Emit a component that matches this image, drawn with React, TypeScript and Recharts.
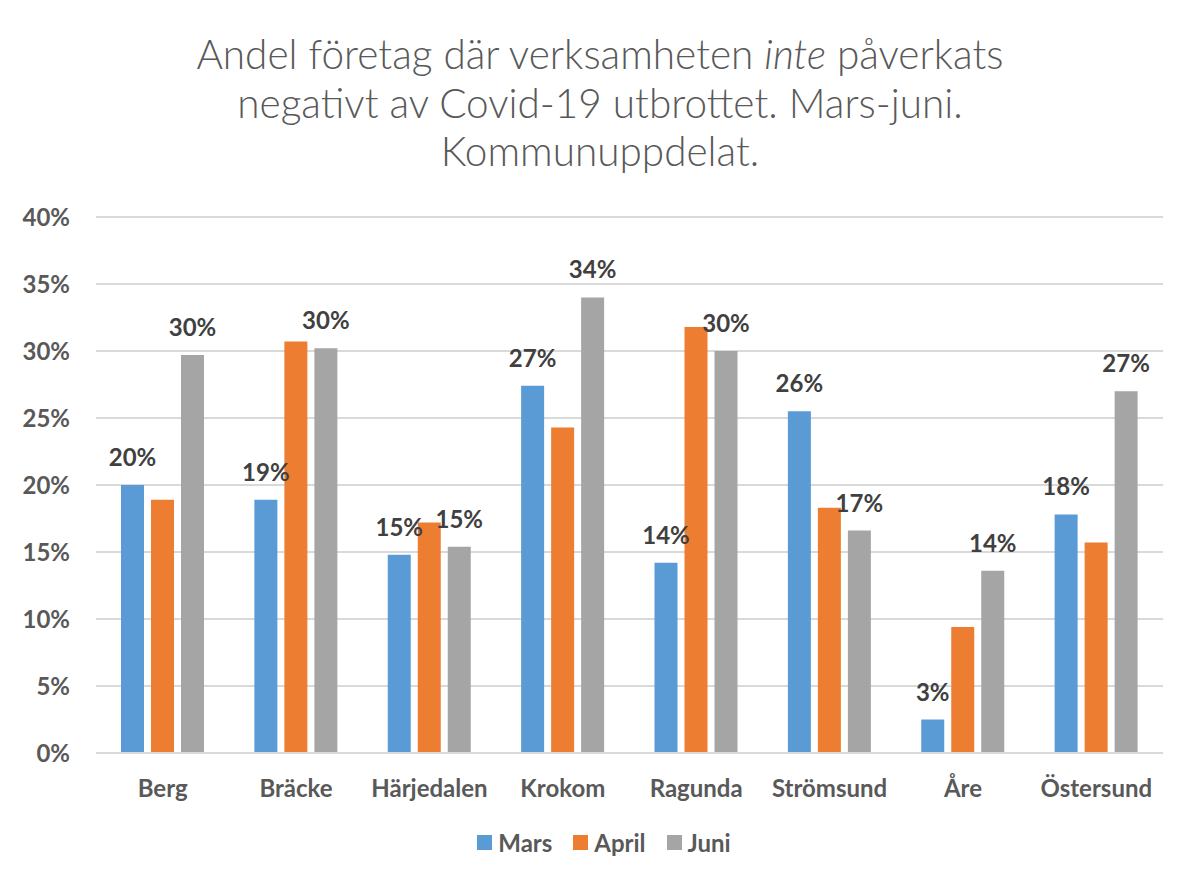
import React from "react";
import { BarChart, Bar, XAxis, YAxis, CartesianGrid, LabelList } from "recharts";

const categories = ["Berg", "Bräcke", "Härjedalen", "Krokom", "Ragunda", "Strömsund", "Åre", "Östersund"];
const mars = [20.0, 18.9, 14.8, 27.4, 14.2, 25.5, 2.5, 17.8];
const april = [18.9, 30.7, 17.2, 24.3, 31.8, 18.3, 9.4, 15.7];
const juni = [29.7, 30.2, 15.4, 34.0, 30.0, 16.6, 13.6, 27.0];
const yTicks = [0, 5, 10, 15, 20, 25, 30, 35, 40];
const seriesNames = ["Mars", "April", "Juni"];
const titleLines = ["Andel företag där verksamheten ", "inte", " påverkats", "negativt av Covid-19 utbrottet. Mars-juni.", "Kommunuppdelat."];

const colors = ["#5B9BD5", "#ED7D31", "#A5A5A5"];
const FONT = "Lato, 'Open Sans', sans-serif";

const data = categories.map((c, i) => ({ name: c, Mars: mars[i], April: april[i], Juni: juni[i] }));

const pct = (v: any) => `${Math.round(Number(v))}%`;

export default function App() {
  return (
    <div style={{ position: "relative", width: 1184, height: 879, margin: -8, overflow: "hidden", background: "#fff", fontFamily: FONT }}>
      <div style={{ position: "absolute", left: 5, top: 6, width: 1260, height: 960, border: "2px solid #D9D9D9", boxSizing: "border-box" }} />
      <div style={{ position: "absolute", left: 0, top: 30, width: 1200, textAlign: "center", fontSize: 40.5, lineHeight: "48.5px", color: "#595959", fontWeight: 300, fontFamily: FONT }}>
        <div>{titleLines[0]}<i>{titleLines[1]}</i>{titleLines[2]}</div>
        <div>{titleLines[3]}</div>
        <div>{titleLines[4]}</div>
      </div>
      <div style={{ position: "absolute", left: 0, top: 0 }}>
        <BarChart width={1184} height={879} data={data} margin={{ top: 217, right: 21, bottom: 96, left: 0 }} barSize={23} barGap={7}>
          <CartesianGrid vertical={false} stroke="#D9D9D9" strokeWidth={2} />
          <XAxis
            dataKey="name"
            height={30}
            tickLine={false}
            axisLine={{ stroke: "#D9D9D9", strokeWidth: 2 }}
            tickMargin={21}
            tick={{ fill: "#595959", fontSize: 24, fontWeight: 700, fontFamily: FONT }}
            interval={0}
          />
          <YAxis
            width={96}
            domain={[0, 40]}
            ticks={yTicks}
            tickFormatter={(v) => `${v}%`}
            tickLine={false}
            axisLine={false}
            tickMargin={20}
            tick={{ fill: "#595959", fontSize: 24, fontWeight: 700, fontFamily: FONT }}
          />
          {seriesNames.map((s, i) => (
            <Bar key={s} dataKey={s} fill={colors[i]} isAnimationActive={false}>
              {s !== "April" && (
                <LabelList dataKey={s} position="top" offset={19} formatter={pct} style={{ fill: "#404040", fontSize: 24, fontWeight: 700, fontFamily: FONT }} />
              )}
            </Bar>
          ))}
        </BarChart>
      </div>
      <div style={{ position: "absolute", left: 0, top: 828, width: 1208, display: "flex", justifyContent: "center", alignItems: "center", fontSize: 24, fontWeight: 700, color: "#595959", fontFamily: FONT }}>
        {seriesNames.map((s, i) => (
          <div key={s} style={{ display: "flex", alignItems: "center", marginRight: i < 2 ? 21 : 0 }}>
            <span style={{ display: "inline-block", width: 15, height: 15, background: colors[i], marginRight: 6 }} />
            <span>{s}</span>
          </div>
        ))}
      </div>
    </div>
  );
}
